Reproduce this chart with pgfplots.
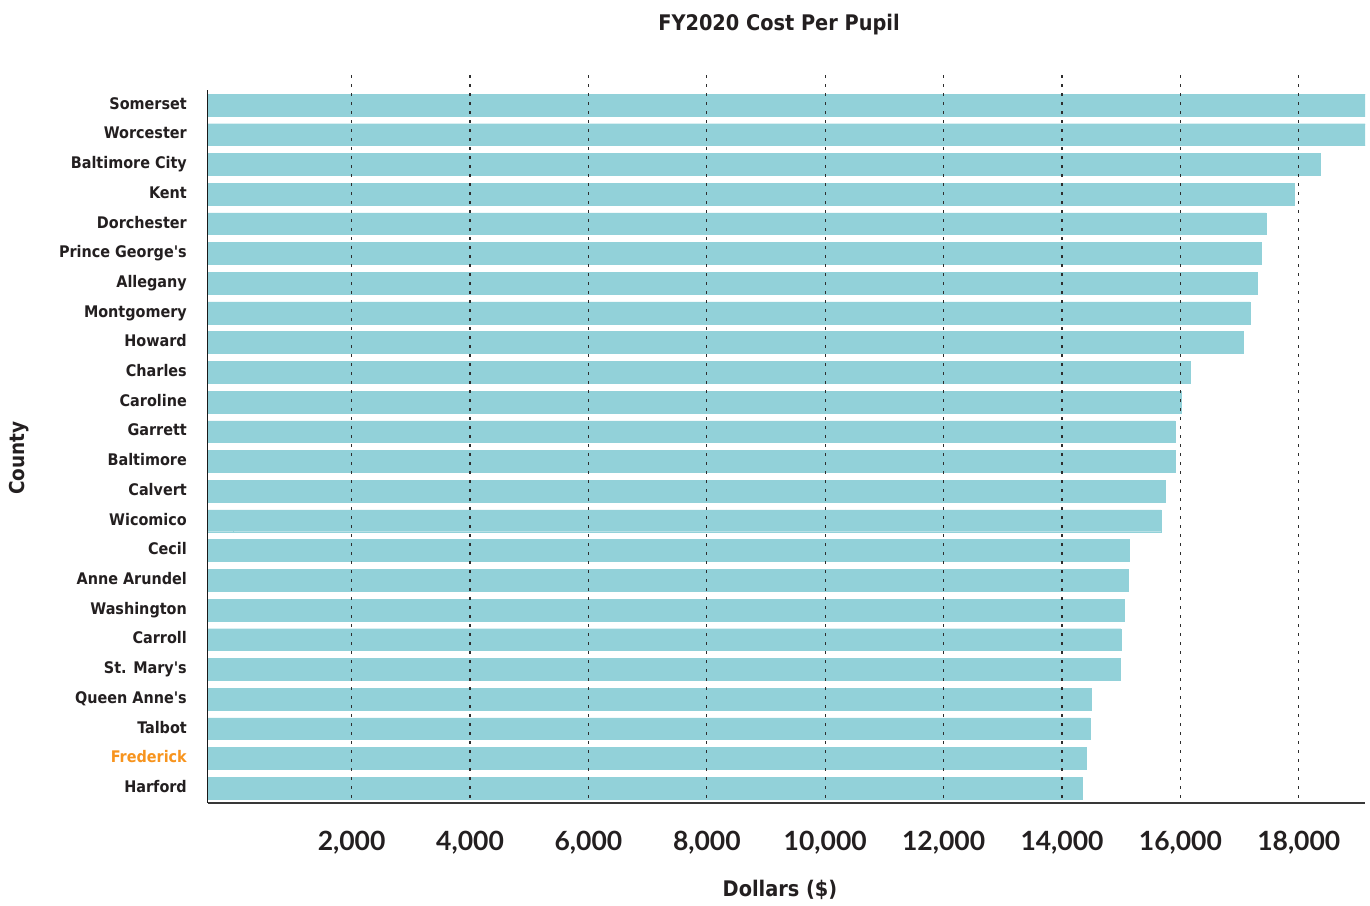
\documentclass[border=0pt]{standalone}
\usepackage{pgfplots}
\pgfplotsset{compat=1.18}
\usepackage{pgfplotstable}
\usepackage{fontspec}
\setmainfont{DejaVu Sans Condensed}[Ligatures=TeXOff]
\newfontfamily\tickfont{Lato}
\definecolor{barcol}{RGB}{146,209,217}
\definecolor{txt}{RGB}{35,31,32}
\definecolor{fred}{RGB}{247,148,30}
\definecolor{gridc}{RGB}{45,45,45}

% FY2020 cost per pupil, top (0) to bottom (23)
\pgfplotstableread{
idx cost
0 19400
1 19300
2 18357
3 17918
4 17445
5 17361
6 17293
7 17175
8 17057
9 16162
10 16010
11 15908
12 15908
13 15739
14 15672
15 15131
16 15114
17 15047
18 14996
19 14979
20 14489
21 14472
22 14405
23 14337
}\costtable

\begin{document}
\begin{tikzpicture}
\useasboundingbox (0,0) rectangle (1370pt,905pt);
\begin{axis}[
  at={(207.5pt,102pt)}, anchor=south west,
  scale only axis, width=1157.5pt, height=728pt,
  xbar, bar width=21.8pt,
  xmin=-435, xmax=19118,
  ymin=-1.008, ymax=23.5, y dir=reverse,
  axis line style={draw=none},
  axis on top,
  major tick length=0pt,
  xtick={2000,4000,...,18000},
  ytick={0,...,23},
  yticklabels={{Somerset},{Worcester},{Baltimore City},{Kent},{Dorchester},{Prince George's},{Allegany},{Montgomery},{Howard},{Charles},{Caroline},{Garrett},{Baltimore},{Calvert},{Wicomico},{Cecil},{Anne Arundel},{Washington},{Carroll},{St. Mary's},{Queen Anne's},{Talbot},{\color{fred}Frederick},{Harford}},
  xmajorgrids,
  major grid style={color=gridc, line width=1.2pt, dash pattern=on 2.7pt off 6.3pt},
  scaled x ticks=false,
  xticklabel style={font=\tickfont\bfseries\fontsize{26.5}{30}\selectfont, text=txt, anchor=base, yshift=-47pt, inner sep=0pt,
    /pgf/number format/.cd, 1000 sep={,}, assume math mode=true},
  yticklabel style={font=\bfseries\fontsize{16}{18}\selectfont, text=txt, anchor=base east, xshift=-20.5pt, yshift=-4.3pt, inner sep=0pt},
]
% the bars: 0 .. cost
\addplot[bar shift=0pt, draw=barcol, line width=0.4pt, fill=barcol] table[x=cost, y=idx] \costtable;
% their continuation from 0 back to the left edge of the axis
\addplot[bar shift=0pt, draw=barcol, line width=0.4pt, fill=barcol, forget plot] table[x expr=-435, y=idx] \costtable;
\coordinate (TL) at (axis cs:-435,-0.5);
\coordinate (BL) at (axis cs:-435,23.5);
\coordinate (BR) at (axis cs:19118,23.5);
\end{axis}
\draw[line width=1.8pt, color=black!78] (BL) -- (BR);
\draw[line width=1.6pt, color=black!90] (TL) -- (BL);
\node[anchor=base, text=txt, font=\bfseries\fontsize{21.5}{24}\selectfont] at (779pt,874pt) {FY2020 Cost Per Pupil};
\node[anchor=base, text=txt, font=\bfseries\fontsize{21.5}{24}\selectfont] at (780pt,9pt) {Dollars (\$)};
\node[anchor=base, rotate=90, text=txt, font=\bfseries\fontsize{20.5}{24}\selectfont] at (24pt,447pt) {County};
\end{tikzpicture}
\end{document}
